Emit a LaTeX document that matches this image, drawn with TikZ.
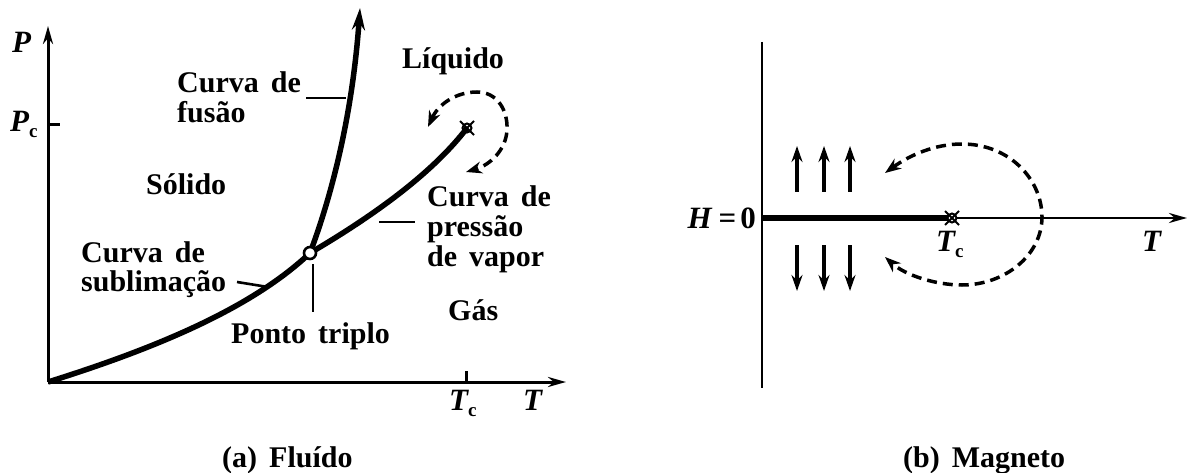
\documentclass[tikz,border=0pt]{standalone}
\usepackage{fontspec}
\setmainfont{Liberation Serif}[WordSpace=1.6]
\usetikzlibrary{arrows.meta}
\newcommand{\subc}{\raisebox{-6pt}{\upshape\fontsize{19}{19}\selectfont c}}
\begin{document}
\begin{tikzpicture}[x=1pt,y=-1pt,
  lbl/.style={anchor=base west, inner sep=0pt, font=\fontsize{30}{29.5}\selectfont\bfseries},
  mlbl/.style={anchor=base west, inner sep=0pt, font=\fontsize{31}{31}\selectfont\bfseries\itshape},
  axisline/.style={line width=3pt},
  axarrow/.style={-{Stealth[length=18pt,width=10pt]}},
  phasecurve/.style={line width=5.5pt},
  leader/.style={line width=2.6pt},
  dashloop/.style={dash pattern=on 10pt off 6pt, line width=3.5pt,
     {Stealth[length=16pt,width=12pt]}-{Stealth[length=16pt,width=12pt]}},
  spin/.style={line width=3.4pt, -{Stealth[length=16pt,width=11pt]}},
  tpmark/.style={circle, draw, fill=white, line width=2.6pt, minimum size=12pt, inner sep=0pt},
  cpmark/.style={circle, draw, line width=2pt, minimum size=9pt, inner sep=0pt},
]
\useasboundingbox (0,0) rectangle (1188,473);

% ---------------- (a) Fluido ----------------
\coordinate (O) at (48,382);
\coordinate (Ptop) at (48,26);
\coordinate (Tend) at (566,382);
\coordinate (tp) at (310,253);
\coordinate (cp) at (467,128);
\coordinate (fusTop) at (360,8);
\coordinate (pc) at (48,125);
\coordinate (tc) at (466,382);

\draw[axisline, axarrow] (O) -- (Ptop);
\draw[axisline, axarrow] (O) -- (Tend);
\draw[axisline] (pc) -- ++(12,0);
\draw[axisline] (tc) -- ++(0,-11);

\draw[phasecurve] (O) .. controls (150,350) and (250,310) .. (tp);
\draw[phasecurve, -{Stealth[length=22pt,width=13pt]}] (tp) .. controls (330,200) and (352,120) .. (fusTop);
\draw[phasecurve] (tp) .. controls (380,212) and (435,170) .. (cp);

\node[tpmark] (TP) at (tp) {};
\node[cpmark] (CP) at (cp) {};
\draw[line width=2pt] (CP.center) ++(-7,-7) -- ++(14,14);
\draw[line width=2pt] (CP.center) ++(-7,7) -- ++(14,-14);

\draw[dashloop] (428,127) .. controls (438,105) and (455,92) .. (477,92)
   .. controls (497,92) and (508,110) .. (507,130)
   .. controls (506,150) and (490,165) .. (466,172);

% leaders
\coordinate (lf1) at (306,98);  \coordinate (lf2) at (346,98);
\coordinate (lv1) at (379,222); \coordinate (lv2) at (415,222);
\coordinate (ls1) at (237,282); \coordinate (ls2) at (268,287);
\coordinate (lt1) at (313,264); \coordinate (lt2) at (313,312);
\draw[leader] (lf1) -- (lf2);
\draw[leader] (lv1) -- (lv2);
\draw[leader] (ls1) -- (ls2);
\draw[leader] (lt1) -- (lt2);

% labels
\node[mlbl] (Plbl) at (12,53) {P};
\node[mlbl] (Pclbl) at (10,132) {P\subc};
\node[mlbl] (Tclbl) at (449,410) {T\subc};
\node[mlbl] (Tlbl) at (523,410) {T};

\node[lbl] (fus) at (177,93) {\begin{tabular}[t]{@{}l@{}}Curva de\\fusão\end{tabular}};
\node[lbl] (liq) at (402,69) {Líquido};
\node[lbl] (sol) at (146,195) {Sólido};
\node[lbl] (pv) at (427,207) {\begin{tabular}[t]{@{}l@{}}Curva de\\pressão\\de vapor\end{tabular}};
\node[lbl] (sub) at (81,262) {\begin{tabular}[t]{@{}l@{}}Curva de\\sublimação\end{tabular}};
\node[lbl] (pt) at (231,343) {Ponto triplo};
\node[lbl] (gas) at (448,320) {Gás};
\node[lbl] (capA) at (222,467) {(a) Fluído};

% ---------------- (b) Magneto ----------------
\coordinate (V1) at (762,42);
\coordinate (V2) at (762,388);
\coordinate (A0) at (762,218);
\coordinate (cpb) at (952,218);
\coordinate (Aend) at (1187,218);

\draw[line width=2.6pt] (V1) -- (V2);
\draw[line width=2.8pt, axarrow] (A0) -- (Aend);
\draw[line width=6pt] (A0) -- (cpb);
\node[cpmark, fill=white] (CPb) at (cpb) {};
\draw[line width=2pt] (CPb.center) ++(-7,-7) -- ++(14,14);
\draw[line width=2pt] (CPb.center) ++(-7,7) -- ++(14,-14);

\foreach \x in {797,824,850} {
  \draw[spin] (\x,192) -- (\x,146);
  \draw[spin] (\x,245) -- (\x,291);
}

\draw[dashloop] (885,173) .. controls (910,155) and (935,144) .. (962,144)
   .. controls (1010,144) and (1042,180) .. (1042,217)
   .. controls (1042,255) and (1005,285) .. (962,285)
   .. controls (935,285) and (905,275) .. (885,257);

\node[anchor=base east, inner sep=0pt, font=\fontsize{31}{31}\selectfont\bfseries] (H0) at (756,228) {\textit{H}\hspace{6pt}=\hspace{4pt}0};
\node[mlbl] (Tcb) at (936,251) {T\subc};
\node[mlbl] (Tb) at (1142,251) {T};
\node[lbl] (capB) at (903,467) {(b) Magneto};
\end{tikzpicture}
\end{document}
